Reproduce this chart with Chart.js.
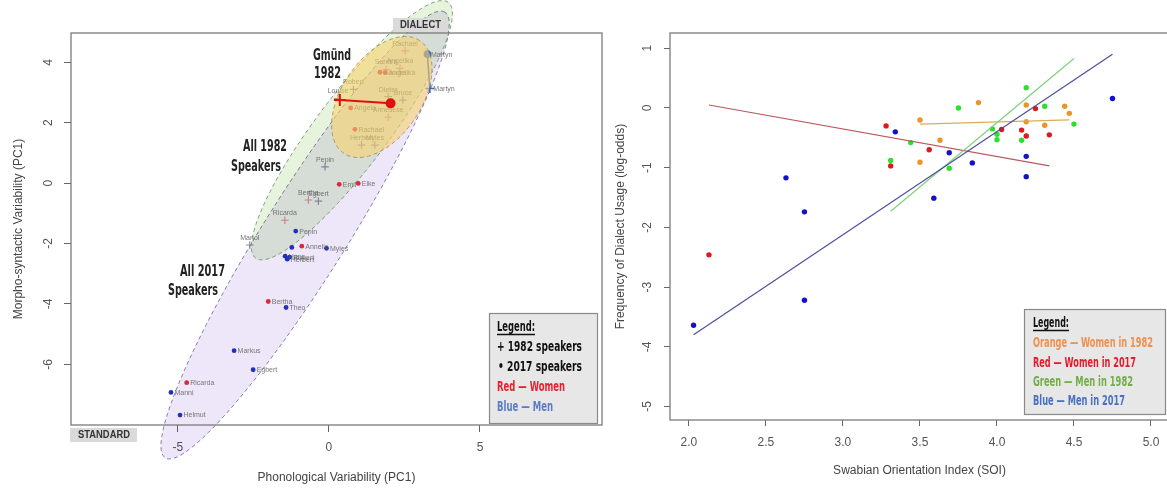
<!DOCTYPE html>
<html><head><meta charset="utf-8">
<script src="https://cdn.jsdelivr.net/npm/chart.js@4.4.1/dist/chart.umd.min.js"></script>
<style>
html,body{margin:0;padding:0;background:#fff;overflow:hidden;width:1167px;height:488px;}
#left{position:absolute;left:0;top:0;}
#right{position:absolute;left:610px;top:0;}
</style></head><body>
<canvas id="left" width="610" height="488"></canvas>
<canvas id="right" width="600" height="488"></canvas>
<script>
// ================= LEFT PANEL DATA (PCA space) =================
const pcXTicks = [-5, 0, 5];
const pcYTicks = [4, 2, 0, -2, -4, -6];

// 1982 speakers (crosses)
const women1982Names = ['Ricarda','Bertha','Anneliese','Sandra','Angelika','Rachael','Louise'];
const women1982X = [-1.46, -0.68, 1.96, 1.89, 2.35, 2.52, 0.30];
const women1982Y = [-1.23, -0.56, 2.18, 3.76, 3.80, 4.38, 2.80];
const men1982Names = ['Manol','Egbert','Pepin','Herbert','Myles','Dieter','Bruce','Robert'];
const men1982X = [-2.62, -0.35, -0.13, 1.08, 1.52, 1.96, 2.45, 0.81];
const men1982Y = [-2.05, -0.60, 0.54, 1.26, 1.26, 2.86, 2.75, 3.10];

// 2017 speakers (dots)
const women2017Names = ['Ricarda','Bertha','Annelie','Emil','Elke','Angela','Sandra','Angelika','Rachael'];
const women2017X = [-4.71, -2.01, -0.90, 0.34, 0.97, 0.72, 1.69, 1.86, 0.86];
const women2017Y = [-6.61, -3.92, -2.09, -0.04, -0.01, 2.49, 3.67, 3.66, 1.78];
const men2017Names = ['Manni','Helmut','Markus','Egbert','Theo','Pepin','','Hans','Rupert','Herbert','Myles'];
const men2017X = [-5.23, -4.93, -3.14, -2.51, -1.42, -1.10, -1.23, -1.45, -1.30, -1.38, -0.08];
const men2017Y = [-6.93, -7.68, -5.55, -6.18, -4.12, -1.59, -2.13, -2.42, -2.45, -2.52, -2.16];

// Gmünd group mean 1982 -> 2017, and Martyn 1982 -> 2017
const gmundMeanX = [0.36, 2.04];
const gmundMeanY = [2.75, 2.64];
const martynX = [3.34, 3.26];
const martynY = [3.13, 4.27];
const martynNames = ['Martyn', 'Martyn'];

// Confidence ellipses: All 2017, All 1982, Gmünd 1982
const ellipseNames = ['All 2017 Speakers', 'All 1982 Speakers', 'Gmünd 1982'];
const ellipseCx = [-0.79, 0.76, 1.75];
const ellipseCy = [-1.72, 1.75, 2.85];
const ellipseA = [8.71, 5.30, 2.25];
const ellipseB = [1.37, 1.19, 1.31];
const ellipseAngle = [57.9, 53.0, 56.0];

// ================= RIGHT PANEL DATA (SOI vs log-odds) =================
const soiTicks = [2.0, 2.5, 3.0, 3.5, 4.0, 4.5, 5.0];
const logOddsTicks = [1, 0, -1, -2, -3, -4, -5];

const women1982SOI = [3.50, 3.63, 3.50, 3.88, 4.19, 4.19, 4.31, 4.44, 4.47];
const women1982Freq = [-0.20, -0.54, -0.91, 0.09, 0.05, -0.23, -0.29, 0.03, -0.09];
const women2017SOI = [3.28, 3.31, 2.13, 3.56, 4.03, 4.25, 4.16, 4.19, 4.34];
const women2017Freq = [-0.30, -0.97, -2.46, -0.70, -0.36, -0.01, -0.37, -0.47, -0.45];
const men1982SOI = [3.31, 3.44, 3.69, 3.75, 3.97, 4.00, 4.00, 4.19, 4.31, 4.16, 4.50];
const men1982Freq = [-0.88, -0.58, -1.01, 0.00, -0.35, -0.44, -0.53, 0.34, 0.03, -0.54, -0.27];
const men2017SOI = [3.34, 2.63, 2.75, 2.75, 2.03, 3.69, 3.59, 3.84, 4.19, 4.19, 4.75];
const men2017Freq = [-0.40, -1.17, -1.74, -3.22, -3.64, -0.75, -1.51, -0.92, -0.81, -1.15, 0.16];

// Regression line end points
const fitWomen1982SOI = [3.50, 4.47];  const fitWomen1982Freq = [-0.27, -0.20];
const fitWomen2017SOI = [2.13, 4.34];  const fitWomen2017Freq = [0.05, -0.97];
const fitMen1982SOI = [3.31, 4.50];    const fitMen1982Freq = [-1.73, 0.83];
const fitMen2017SOI = [2.03, 4.75];    const fitMen2017Freq = [-3.80, 0.90];

// ================= HELPERS =================
const FONT = '"Liberation Sans", Arial, Helvetica, sans-serif';
const NARROW = '"Liberation Sans Narrow", "Arial Narrow", "DejaVu Sans Condensed", sans-serif';
function pts(xs, ys) { return xs.map((x, i) => ({ x: x, y: ys[i] })); }

function drawFitText(ctx, t) {
  ctx.save();
  ctx.font = t.font;
  ctx.fillStyle = t.color;
  ctx.textBaseline = 'middle';
  ctx.textAlign = 'left';
  const w = ctx.measureText(t.text).width;
  const s = t.w ? t.w / w : 1;
  ctx.translate(t.x, t.y);
  ctx.scale(s, 1);
  ctx.fillText(t.text, 0, 0);
  ctx.restore();
  if (t.underline) {
    ctx.save(); ctx.strokeStyle = t.color; ctx.lineWidth = 1.3;
    ctx.beginPath(); ctx.moveTo(t.x, t.y + 7.5); ctx.lineTo(t.x + (t.w || w), t.y + 7.5); ctx.stroke();
    ctx.restore();
  }
}

function drawEllipse(chart, k, st) {
  const ctx = chart.ctx, xs = chart.scales.x, ys = chart.scales.y;
  const th = ellipseAngle[k] * Math.PI / 180;
  ctx.save();
  ctx.beginPath();
  const N = 160;
  for (let i = 0; i <= N; i++) {
    const t = i / N * 2 * Math.PI;
    const dx = ellipseA[k] * Math.cos(t) * Math.cos(th) - ellipseB[k] * Math.sin(t) * Math.sin(th);
    const dy = ellipseA[k] * Math.cos(t) * Math.sin(th) + ellipseB[k] * Math.sin(t) * Math.cos(th);
    const px = xs.getPixelForValue(ellipseCx[k] + dx);
    const py = ys.getPixelForValue(ellipseCy[k] + dy);
    if (i === 0) ctx.moveTo(px, py); else ctx.lineTo(px, py);
  }
  ctx.closePath();
  ctx.globalCompositeOperation = st.blend;
  ctx.fillStyle = st.fill;
  ctx.fill();
  ctx.globalCompositeOperation = 'source-over';
  ctx.setLineDash([4, 3]);
  ctx.lineWidth = 1;
  ctx.strokeStyle = st.stroke;
  ctx.stroke();
  ctx.restore();
}

const decor = {
  id: 'decor',
  beforeDatasetsDraw(chart, args, o) {
    const ctx = chart.ctx;
    (o.ellipsesUnder || []).forEach(k => drawEllipse(chart, k, o.ellipseStyles[k]));
    const a = chart.chartArea;
    ctx.save();
    ctx.strokeStyle = '#7a7a7a';
    ctx.lineWidth = 1.3;
    ctx.strokeRect(a.left, a.top, a.right - a.left, a.bottom - a.top);
    ctx.restore();
  },
  beforeDatasetDraw(chart, args, o) {
    const ds = chart.data.datasets[args.index];
    if (ds.ellipseBefore !== undefined) drawEllipse(chart, ds.ellipseBefore, o.ellipseStyles[ds.ellipseBefore]);
  },
  afterDatasetDraw(chart, args) {
    const ds = chart.data.datasets[args.index];
    if (!ds.names) return;
    const ctx = chart.ctx;
    ctx.save();
    ctx.font = '7px ' + FONT;
    ctx.fillStyle = 'rgba(95,95,95,0.85)';
    ctx.textBaseline = 'middle';
    args.meta.data.forEach((el, i) => {
      const n = ds.names[i];
      if (!n) return;
      if (ds.namePos === 'above') { ctx.textAlign = 'center'; ctx.fillText(n, el.x, el.y - 7); }
      else { ctx.textAlign = 'left'; ctx.fillText(n, el.x + 3.5, el.y + 0.5); }
    });
    ctx.restore();
  },
  afterDraw(chart, args, o) {
    const ctx = chart.ctx;
    (o.boxes || []).forEach(b => {
      ctx.save();
      ctx.fillStyle = b.fill;
      ctx.fillRect(b.x, b.y, b.w, b.h);
      if (b.stroke) { ctx.strokeStyle = b.stroke; ctx.lineWidth = 1.2; ctx.strokeRect(b.x + 0.5, b.y + 0.5, b.w, b.h); }
      ctx.restore();
    });
    (o.texts || []).forEach(t => drawFitText(ctx, t));
  }
};

function axisCommon(tickLen, pad) {
  return {
    grid: { display: true, drawOnChartArea: false, drawTicks: true, tickLength: tickLen, color: '#666', lineWidth: 1 },
    border: { display: false },
    ticks: { color: '#555', font: { family: FONT, size: 12 }, padding: pad, autoSkip: false,
             minRotation: 0, maxRotation: 0 }
  };
}
function rotatedY(tickLen, pad) {
  const c = axisCommon(tickLen, pad);
  c.ticks.minRotation = 90; c.ticks.maxRotation = 90; c.ticks.crossAlign = 'center';
  return c;
}

// ================= LEFT CHART =================
const B = 'bold 16px ' + NARROW;
const L = 'bold 14px ' + NARROW;
new Chart(document.getElementById('left'), {
  type: 'scatter',
  data: {
    datasets: [
      { label: 'Women 1982', data: pts(women1982X, women1982Y), names: women1982Names, namePos: 'above',
        pointStyle: 'cross', pointRadius: 3.8, borderColor: 'rgba(200,125,135,0.95)', borderWidth: 1.2, order: 10 },
      { label: 'Men 1982', data: pts(men1982X, men1982Y), names: men1982Names, namePos: 'above',
        pointStyle: 'cross', pointRadius: 3.8, borderColor: 'rgba(125,130,158,0.95)', borderWidth: 1.2, order: 9 },
      { label: 'Men 2017', data: pts(men2017X, men2017Y), names: men2017Names, namePos: 'right',
        pointStyle: 'circle', pointRadius: 2.4, backgroundColor: '#2230b8', borderWidth: 0, order: 8 },
      { label: 'Women 2017', data: pts(women2017X, women2017Y), names: women2017Names, namePos: 'right',
        pointStyle: 'circle', pointRadius: 2.4, backgroundColor: '#d8283c', borderWidth: 0, order: 7 },
      { label: 'Martyn', data: pts(martynX, martynY), names: martynNames, namePos: 'right', showLine: true,
        borderColor: '#3a68c8', backgroundColor: '#3a68c8', borderWidth: 1.6,
        pointStyle: ['cross', 'circle'], pointRadius: [4.5, 3], order: 6 },
      { label: 'Gmünd mean', id: 'gmund', ellipseBefore: 2, data: pts(gmundMeanX, gmundMeanY), showLine: true,
        borderColor: '#e01010', backgroundColor: '#e01010', borderWidth: 2,
        pointStyle: ['cross', 'circle'], pointRadius: [6, 4], order: 1 }
    ]
  },
  options: {
    responsive: false, animation: false, devicePixelRatio: 1, events: [],
    layout: { padding: { top: 33, right: 8, left: 0, bottom: 0 } },
    plugins: {
      legend: { display: false }, tooltip: { enabled: false },
      decor: {
        ellipsesUnder: [0, 1],
        ellipseStyles: [
          { fill: 'rgb(237,231,249)', blend: 'multiply', stroke: 'rgba(110,95,140,0.8)' },
          { fill: 'rgb(231,244,221)', blend: 'multiply', stroke: 'rgba(100,138,90,0.8)' },
          { fill: 'rgba(246,210,108,0.6)', blend: 'source-over', stroke: 'rgba(150,135,90,0.8)' }
        ],
        boxes: [
          { x: 393, y: 18, w: 55, h: 14, fill: '#dadada' },
          { x: 70, y: 428, w: 67, h: 14, fill: '#dadada' },
          { x: 489, y: 313, w: 108, h: 110, fill: '#e7e7e7', stroke: '#8a8a8a' }
        ],
        texts: [
          { text: 'DIALECT', x: 400, y: 25.5, w: 41, font: 'bold 10px ' + FONT, color: '#333' },
          { text: 'STANDARD', x: 78, y: 435.5, w: 52, font: 'bold 10px ' + FONT, color: '#333' },
          { text: 'Gmünd', x: 313, y: 56, w: 38, font: B, color: '#222' },
          { text: '1982', x: 314, y: 74, w: 27, font: B, color: '#222' },
          { text: 'All 1982', x: 243, y: 147, w: 44, font: B, color: '#222' },
          { text: 'Speakers', x: 231, y: 167, w: 50, font: B, color: '#222' },
          { text: 'All 2017', x: 180, y: 272, w: 45, font: B, color: '#222' },
          { text: 'Speakers', x: 168, y: 291, w: 50, font: B, color: '#222' },
          { text: 'Legend:', x: 497, y: 327, w: 38, font: L, color: '#111', underline: true },
          { text: '+ 1982 speakers', x: 497, y: 347, w: 85, font: L, color: '#111' },
          { text: '• 2017 speakers', x: 498, y: 367, w: 84, font: L, color: '#111' },
          { text: 'Red — Women', x: 497, y: 387, w: 68, font: L, color: '#e8202e' },
          { text: 'Blue — Men', x: 497, y: 407, w: 56, font: L, color: '#5a7cc4' }
        ]
      }
    },
    scales: {
      x: Object.assign(axisCommon(7, 8), {
        type: 'linear', min: -8.54, max: 9.04,
        afterBuildTicks: s => { s.ticks = pcXTicks.map(v => ({ value: v })); },
        afterFit: s => { s.height = 63; },
        title: { display: true, text: 'Phonological Variability (PC1)', color: '#444', font: { family: FONT, size: 12 }, padding: { top: 0, bottom: 3 } }
      }),
      y: Object.assign(rotatedY(7, 10), {
        type: 'linear', min: -8.01, max: 4.97,
        afterBuildTicks: s => { s.ticks = pcYTicks.map(v => ({ value: v })); },
        afterFit: s => { s.width = 71; },
        title: { display: true, text: 'Morpho-syntactic Variability (PC1)', color: '#444', font: { family: FONT, size: 12 }, padding: { top: 11, bottom: 0 } }
      })
    }
  },
  plugins: [decor]
});

// ================= RIGHT CHART =================
const rightX = axisCommon(6, 9);
rightX.ticks.callback = v => Number(v).toFixed(1);
new Chart(document.getElementById('right'), {
  type: 'scatter',
  data: {
    datasets: [
      { label: 'Women 1982', data: pts(women1982SOI, women1982Freq), backgroundColor: '#ec9428', pointRadius: 2.7, borderWidth: 0, order: 9 },
      { label: 'Women 2017', data: pts(women2017SOI, women2017Freq), backgroundColor: '#dd1a1a', pointRadius: 2.7, borderWidth: 0, order: 8 },
      { label: 'Men 1982', data: pts(men1982SOI, men1982Freq), backgroundColor: '#2ee02e', pointRadius: 2.7, borderWidth: 0, order: 7 },
      { label: 'Men 2017', data: pts(men2017SOI, men2017Freq), backgroundColor: '#1212cc', pointRadius: 2.7, borderWidth: 0, order: 6 },
      { label: 'Fit women 1982', data: pts(fitWomen1982SOI, fitWomen1982Freq), showLine: true, pointRadius: 0, borderColor: 'rgba(215,170,80,0.95)', borderWidth: 1.2, order: 4 },
      { label: 'Fit women 2017', data: pts(fitWomen2017SOI, fitWomen2017Freq), showLine: true, pointRadius: 0, borderColor: 'rgba(180,80,85,0.95)', borderWidth: 1.2, order: 3 },
      { label: 'Fit men 1982', data: pts(fitMen1982SOI, fitMen1982Freq), showLine: true, pointRadius: 0, borderColor: 'rgba(120,205,120,0.95)', borderWidth: 1.2, order: 2 },
      { label: 'Fit men 2017', data: pts(fitMen2017SOI, fitMen2017Freq), showLine: true, pointRadius: 0, borderColor: 'rgba(70,70,150,0.95)', borderWidth: 1.2, order: 1 }
    ]
  },
  options: {
    responsive: false, animation: false, devicePixelRatio: 1, events: [],
    layout: { padding: { top: 33, right: 41, left: 0, bottom: 0 } },
    plugins: {
      legend: { display: false }, tooltip: { enabled: false },
      decor: {
        ellipseStyles: [],
        boxes: [ { x: 414, y: 309, w: 141, h: 105, fill: '#e7e7e7', stroke: '#8a8a8a' } ],
        texts: [
          { text: 'Legend:', x: 423, y: 323, w: 36, font: L, color: '#111', underline: true },
          { text: 'Orange — Women in 1982', x: 423, y: 343, w: 120, font: L, color: '#f0904c' },
          { text: 'Red — Women in 2017', x: 423, y: 363, w: 103, font: L, color: '#e41c2c' },
          { text: 'Green — Men in 1982', x: 423, y: 382, w: 100, font: L, color: '#72ae48' },
          { text: 'Blue — Men in 2017', x: 423, y: 401, w: 92, font: L, color: '#4a70c2' }
        ]
      }
    },
    scales: {
      x: Object.assign(rightX, {
        type: 'linear', min: 1.877, max: 5.117,
        afterBuildTicks: s => { s.ticks = soiTicks.map(v => ({ value: v })); },
        afterFit: s => { s.height = 68; },
        title: { display: true, text: 'Swabian Orientation Index (SOI)', color: '#444', font: { family: FONT, size: 12 }, padding: { top: 0, bottom: 10 } }
      }),
      y: Object.assign(rotatedY(6, 11), {
        type: 'linear', min: -5.226, max: 1.256,
        afterBuildTicks: s => { s.ticks = logOddsTicks.map(v => ({ value: v })); },
        afterFit: s => { s.width = 60; },
        title: { display: true, text: 'Frequency of Dialect Usage (log-odds)', color: '#444', font: { family: FONT, size: 12 }, padding: { top: 3, bottom: 0 } }
      })
    }
  },
  plugins: [decor]
});
</script>
</body></html>
